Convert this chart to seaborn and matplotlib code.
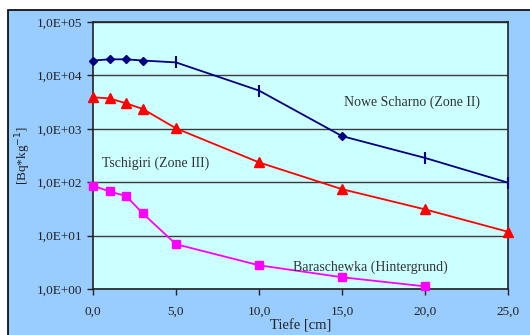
import matplotlib
matplotlib.use("Agg")
import matplotlib.pyplot as plt
import matplotlib.patches as patches
import numpy as np
import pandas as pd
import seaborn as sns

# depth [cm]
depth = [0, 1, 2, 3, 5, 10, 15, 20, 25]
nowe_scharno = [19000, 20000, 20000, 19000, 17500, 5200, 730, 285, 98]
nowe_markers = ["D", "D", "D", "D", "|", "|", "D", "|", "|"]
tschigiri = [3900, 3700, 3000, 2350, 1020, 235, 74, 31, 11.8]
depth_bar = [0, 1, 2, 3, 5, 10, 15, 20]
baraschewka = [86, 67, 55, 26, 6.9, 2.78, 1.66, 1.12]

y_ticks = [1, 10, 100, 1000, 10000, 100000]
y_labels = ["1,0E+00", "1,0E+01", "1,0E+02", "1,0E+03", "1,0E+04", "1,0E+05"]
x_ticks = [0, 5, 10, 15, 20, 25]
x_labels = ["0,0", "5,0", "10,0", "15,0", "20,0", "25,0"]

sns.set_style("ticks")
plt.rcParams["font.family"] = ["Liberation Serif", "DejaVu Serif"]

fig = plt.figure(figsize=(5.3, 3.35), dpi=100)
fig.patch.set_facecolor("white")
# blue chart area with black frame
fig.patches.append(patches.Rectangle((8 / 530, -0.05), 1.0, 1 - 9.5 / 335 + 0.05,
                                     transform=fig.transFigure, facecolor="#99CCFF",
                                     edgecolor="black", linewidth=1.2, zorder=-10))

ax = fig.add_axes([93 / 530, 1 - 289 / 335, 415 / 530, 267 / 335])
ax.set_facecolor("#CCFFFF")

df_n = pd.DataFrame({"x": depth, "y": nowe_scharno, "m": nowe_markers})
df_t = pd.DataFrame({"x": depth, "y": tschigiri})
df_b = pd.DataFrame({"x": depth_bar, "y": baraschewka})

sns.lineplot(data=df_n, x="x", y="y", ax=ax, color="#000080", lw=1.3, zorder=3)
sns.lineplot(data=df_t, x="x", y="y", ax=ax, color="red", lw=1.3, zorder=3)
sns.lineplot(data=df_b, x="x", y="y", ax=ax, color="magenta", lw=1.3, zorder=3)

for mk, sub in df_n.groupby("m"):
    if mk == "|":
        ax.plot(sub["x"], sub["y"], ls="none", marker="|", ms=8, mew=1.5,
                color="#000080", zorder=4, clip_on=False)
    else:
        ax.plot(sub["x"], sub["y"], ls="none", marker="D", ms=4.5,
                color="#000080", zorder=4, clip_on=False)
ax.plot(df_t["x"], df_t["y"], ls="none", marker="^", ms=6.5, color="red",
        zorder=4, clip_on=False)
ax.plot(df_b["x"], df_b["y"], ls="none", marker="s", ms=5.5, color="magenta",
        zorder=4, clip_on=False)

ax.set_yscale("log")
ax.set_ylim(1, 100000)
ax.set_xlim(0, 25)
ax.set_yticks(y_ticks)
ax.set_yticklabels(y_labels)
ax.yaxis.set_minor_locator(matplotlib.ticker.NullLocator())
ax.set_xticks(x_ticks)
ax.set_xticklabels(x_labels)
ax.tick_params(labelsize=9.5, colors="#222222", length=4, width=1)
ax.tick_params(axis="x", pad=8)
ax.grid(axis="y", color="#3a3a3a", lw=1)
for s in ax.spines.values():
    s.set_color("#222222")
    s.set_linewidth(1.2)

ax.set_xlabel("Tiefe [cm]", fontsize=10.5, color="#222222", labelpad=1)
ax.set_ylabel("[Bq*kg$^{-1}$]", fontsize=9.5, color="#222222", labelpad=3)

txt = dict(fontsize=10, color="#333333", ha="center", va="center")
ax.text(19.2, 3200, "Nowe Scharno (Zone II)", **txt)
ax.text(3.8, 230, "Tschigiri (Zone III)", **txt)
ax.text(16.7, 2.5, "Baraschewka (Hintergrund)", **txt)

fig.savefig("out.png", dpi=100)
